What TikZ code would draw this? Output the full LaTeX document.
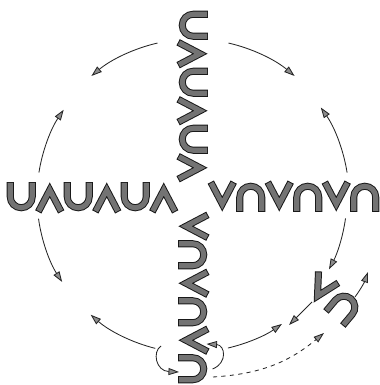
\documentclass[tikz,border=0pt]{standalone}
\usetikzlibrary{arrows.meta}

\newcommand\cupglyph[1]{\draw[glyph] (#1-11,14) -- (#1-11,0.25) arc[start angle=180, end angle=360, radius=11] -- (#1+11,14);}
\newcommand\wedgeglyph[1]{\draw[glyph] (#1-11,-14) -- (#1,7) -- (#1+11,-14);}

\begin{document}
\begin{tikzpicture}[
  x=0.025cm, y=0.025cm,
  glyph/.style={draw=black!55, line width=3.6pt, line join=miter,
    preaction={draw=black!90, line width=5pt, shorten <=-0.7pt, shorten >=-0.7pt}},
  cup/.pic={\cupglyph{0}},
  wedge/.pic={\wedgeglyph{0}},
  word/.pic={
    \foreach \g in {-71.25,-14.25,42.75}{
      \cupglyph{\g}
      \wedgeglyph{\g+28.5}
    }
  },
  arr/.style={-{Triangle[length=7.5pt, width=5pt, fill=black!45]}, line width=0.6pt, draw=black!85}
]
\useasboundingbox (-193,-188) rectangle (186,197);

% the four words
\pic at (-100.5,0) {word};
\pic[rotate=-90] at (0,100.5) {word};
\pic[rotate=180] at (100.5,0) {word};
\pic[rotate=90] at (0,-100.5) {word};

% loose pieces
\pic[rotate=150] at (128,-93) {wedge};
\pic[rotate=140] at (151,-110) {cup};

% arcs of the circle
\draw[arr] (103:158) arc[start angle=103, end angle=130, radius=158];
\draw[arr] (77:158) arc[start angle=77, end angle=50, radius=158];
\draw[arr] (171:156) arc[start angle=171, end angle=146, radius=156];
\draw[arr] (9:156) arc[start angle=9, end angle=35, radius=156];
\draw[arr] (188:156) arc[start angle=188, end angle=213, radius=156];
\draw[arr] (-8:154) arc[start angle=-8, end angle=-28, radius=154];
\draw[arr] (256:156) arc[start angle=256, end angle=229, radius=156];
\draw[arr] (-77:155) arc[start angle=-77, end angle=-55, radius=155];

% turning round the axis
\draw[arr] (-32,-149) .. controls (-41,-155) and (-37,-174) .. (-14,-175);
\draw[arr] (19.5,-172) .. controls (35,-166) and (32,-148) .. (13.5,-147);

\draw[arr] (119,-105) -- (96,-128);
\draw[arr] (162,-100) to[bend right=8] (175,-75);
\draw[arr, dashed] (20,-180) to[bend right=18] (131,-136);

\end{tikzpicture}
\end{document}
